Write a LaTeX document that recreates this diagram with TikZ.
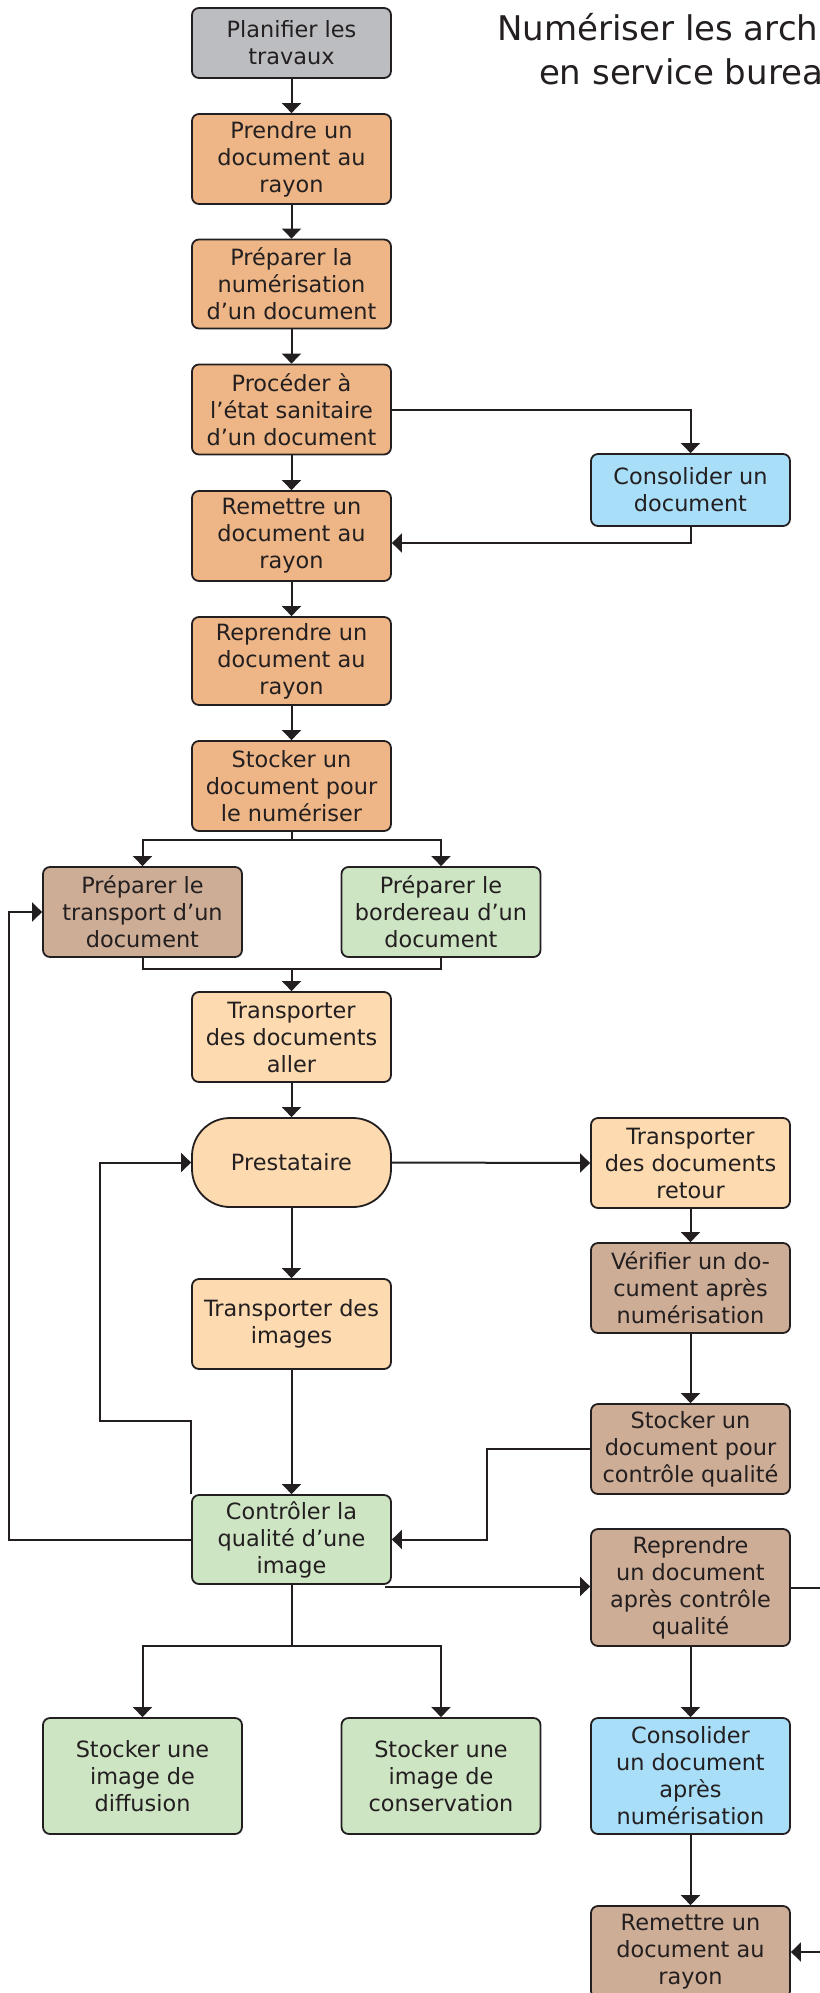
\documentclass[tikz,border=0pt]{standalone}
\usepackage{fontspec}
\setmainfont{DejaVu Sans}
\usetikzlibrary{arrows.meta,calc}
\definecolor{ink}{HTML}{231F20}
\definecolor{cgray}{HTML}{BCBDC1}
\definecolor{corange}{HTML}{EEB686}
\definecolor{cpeach}{HTML}{FDDAB0}
\definecolor{cbrown}{HTML}{CDAD95}
\definecolor{cgreen}{HTML}{CEE5C4}
\definecolor{cblue}{HTML}{A8DEF8}
\tikzset{
  box/.style={draw=ink, line width=1.8pt, rounded corners=7pt, minimum width=199pt,
    inner sep=0pt, align=center, text=ink, font=\fontsize{22.4}{27}\selectfont},
  arr/.style={draw=ink, line width=2pt, -{Triangle[width=19pt,length=10pt]}},
  ln/.style={draw=ink, line width=2pt},
}
\begin{document}
\begin{tikzpicture}[x=1pt,y=-1pt]
\useasboundingbox (0,0) rectangle (819,1993);
% title
\node[anchor=north west, inner sep=0pt, align=center, text=ink,
  font=\fontsize{34}{44}\selectfont] (title) at (497,13)
  {Numériser les archives\\en service bureau};
% main column
\node[box, fill=cgray, minimum height=70pt] (plan) at (291.5,43) {Planifier les\\travaux};
\node[box, fill=corange, minimum height=90pt] (prendre) at (291.5,159) {Prendre un\\document au\\rayon};
\node[box, fill=corange, minimum height=89pt] (prepnum) at (291.5,284) {Préparer la\\numérisation\\d’un document};
\node[box, fill=corange, minimum height=90pt] (proceder) at (291.5,409.5) {Procéder à\\l’état sanitaire\\d’un document};
\node[box, fill=corange, minimum height=90pt] (remettre) at (291.5,536) {Remettre un\\document au\\rayon};
\node[box, fill=corange, minimum height=88pt] (reprendre) at (291.5,661) {Reprendre un\\document au\\rayon};
\node[box, fill=corange, minimum height=90pt] (stocker) at (291.5,786) {Stocker un\\document pour\\le numériser};
\node[box, fill=cbrown, minimum height=90pt] (transport) at (142.5,912) {Préparer le\\transport d’un\\document};
\node[box, fill=cgreen, minimum height=90pt] (bordereau) at (441,912) {Préparer le\\bordereau d’un\\document};
\node[box, fill=cpeach, minimum height=90pt] (aller) at (291.5,1037) {Transporter\\des documents\\aller};
\node[box, fill=cpeach, minimum height=89pt, rounded corners=38pt] (presta) at (291.5,1162.5) {Prestataire};
\node[box, fill=cpeach, minimum height=90pt] (images) at (291.5,1324) {Transporter des\\images};
\node[box, fill=cgreen, minimum height=89pt] (ctrl) at (291.5,1539.5) {Contrôler la\\qualité d’une\\image};
\node[box, fill=cgreen, minimum height=116pt] (diffusion) at (142.5,1776) {Stocker une\\image de\\diffusion};
\node[box, fill=cgreen, minimum height=116pt] (conservation) at (441,1776) {Stocker une\\image de\\conservation};
% right column
\node[box, fill=cblue, minimum height=72pt] (consol1) at (690.5,490) {Consolider un\\document};
\node[box, fill=cpeach, minimum height=90pt] (retour) at (690.5,1163) {Transporter\\des documents\\retour};
\node[box, fill=cbrown, minimum height=90pt] (verifier) at (690.5,1288) {Vérifier un do-\\cument après\\numérisation};
\node[box, fill=cbrown, minimum height=90pt] (stockcq) at (690.5,1449) {Stocker un\\document pour\\contrôle qualité};
\node[box, fill=cbrown, minimum height=117pt] (rcq) at (690.5,1587.5) {Reprendre\\un document\\après contrôle\\qualité};
\node[box, fill=cblue, minimum height=116pt] (consol2) at (690.5,1776) {Consolider\\un document\\après\\numérisation};
\node[box, fill=cbrown, minimum height=92pt] (remettre2) at (690.5,1952) {Remettre un\\document au\\rayon};
% connectors
\draw[arr] (plan) -- (prendre);
\draw[arr] (prendre) -- (prepnum);
\draw[arr] (prepnum) -- (proceder);
\draw[arr] (proceder) -- (remettre);
\draw[arr] (remettre) -- (reprendre);
\draw[arr] (reprendre) -- (stocker);
\draw[arr] (proceder.east) -| (consol1.north);
\coordinate (r1in) at ($(remettre.east)+(0,7)$);
\draw[arr] (consol1.south) |- (r1in);
\draw[ln] (stocker.south) -- ++(0,8) coordinate (sb);
\draw[arr] (sb) -| (transport.north);
\draw[arr] (sb) -| (bordereau.north);
\coordinate (m) at (291.5,969);
\draw[ln] (transport.south) |- (m) -| (bordereau.south);
\draw[arr] (m) -- (aller.north);
\draw[arr] (aller) -- (presta);
\draw[arr] (presta.east) -- (retour.west);
\draw[arr] (presta) -- (images);
\draw[arr] (images) -- (ctrl);
\draw[arr] (retour) -- (verifier);
\draw[arr] (verifier) -- (stockcq);
\draw[arr] (stockcq.west) -- ++(-103,0) |- (ctrl.east);
\draw[arr] (ctrl.west) -- ++(-182.5,0) |- (transport.west);
\draw[arr] (ctrl.north west) -- ++(0,-73) -- ++(-91,0) |- (presta.west);
\coordinate (c1) at (385,1586.5);
\draw[arr] (c1) -- (c1 -| rcq.west);
\draw[arr] (rcq.east) -- ++(45,0) |- (remettre2.east);
\draw[arr] (rcq) -- (consol2);
\draw[arr] (consol2) -- (remettre2);
\draw[ln] (ctrl.south) -- ++(0,61) coordinate (cb);
\draw[arr] (cb) -| (diffusion.north);
\draw[arr] (cb) -| (conservation.north);
\end{tikzpicture}
\end{document}
